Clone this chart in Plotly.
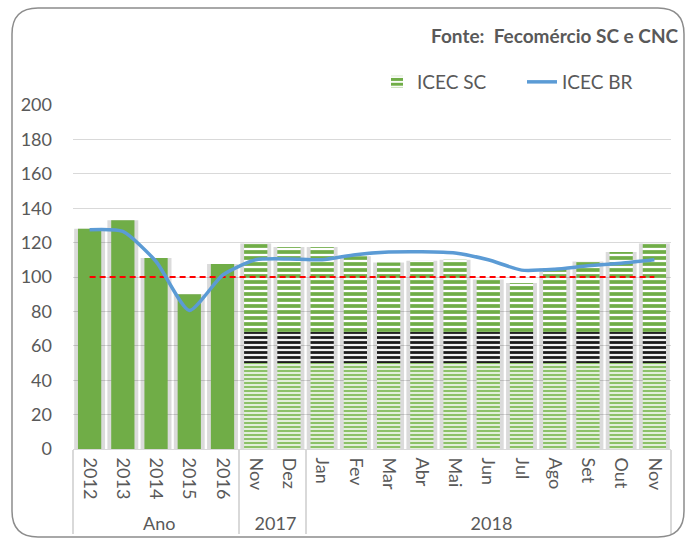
import plotly.graph_objects as go

# ---- data ----
groups = ["Ano"] * 5 + ["2017"] * 2 + ["2018"] * 11
periods = ["2012", "2013", "2014", "2015", "2016", "Nov", "Dez",
           "Jan", "Fev", "Mar", "Abr", "Mai", "Jun", "Jul", "Ago", "Set", "Out", "Nov "]
icec_sc = [128, 133, 111, 90, 107.5, 119.5, 117.5, 117.5, 112, 108.5, 109.5, 110,
           98.5, 96.5, 105, 109, 114.5, 119.5]
icec_br = [127.5, 126.5, 109, 80.5, 101, 110, 110.5, 110, 113, 114.5, 114.7, 114,
           110, 104, 104.5, 106.5, 108, 110]
reference = [100] * len(periods)

N_ANNUAL = 5
BAND_LO, BAND_HI = 50, 68   # pattern band limits (style)

W, H = 688, 540
ML, MR, MT, MB = 73, 17, 105, 91
FONT = "Lato, 'Open Sans', sans-serif"
GREY_TXT = "#595959"
GREEN = "#70AD47"
FS = 18

x_all = [groups, periods]
x_ann = [groups[:N_ANNUAL], periods[:N_ANNUAL]]
x_mon = [groups[N_ANNUAL:], periods[N_ANNUAL:]]
mon_vals = icec_sc[N_ANNUAL:]

fig = go.Figure()

# shadows behind bars
fig.add_trace(go.Bar(x=x_all, y=icec_sc, width=0.93, marker=dict(color="rgba(0,0,0,0.14)", line_width=0),
                     showlegend=False, hoverinfo="skip"))

# annual solid bars
fig.add_trace(go.Bar(x=x_ann, y=icec_sc[:N_ANNUAL], width=0.7, marker=dict(color=GREEN, line_width=0),
                     name="ICEC SC", legendgroup="sc", showlegend=False))

# monthly patterned bars: lower, band, upper segments
fig.add_trace(go.Bar(x=x_mon, y=[min(v, BAND_LO) for v in mon_vals], base=0, width=0.7,
                     marker=dict(color="#E2EFDA", line_width=0,
                                 pattern=dict(shape="-", fgcolor="#8CC168", bgcolor="#E2EFDA",
                                              fgopacity=1, size=4, solidity=0.5)),
                     legendgroup="sc", showlegend=False, hoverinfo="skip"))
fig.add_trace(go.Bar(x=x_mon, y=[BAND_HI - BAND_LO for v in mon_vals], base=BAND_LO, width=0.7,
                     marker=dict(color="#EDEDED", line_width=0,
                                 pattern=dict(shape="-", fgcolor="#1A1A1A", bgcolor="#F2F2F2",
                                              fgopacity=1, size=5, solidity=0.55)),
                     legendgroup="sc", showlegend=False, hoverinfo="skip"))
fig.add_trace(go.Bar(x=x_mon, y=[v - BAND_HI for v in mon_vals], base=BAND_HI, width=0.7,
                     marker=dict(color="white", line_width=0,
                                 pattern=dict(shape="-", fgcolor=GREEN, bgcolor="white",
                                              fgopacity=1, size=6, solidity=0.62)),
                     name="ICEC SC", legendgroup="sc", showlegend=True))

# reference line
fig.add_trace(go.Scatter(x=x_all, y=reference, mode="lines",
                         line=dict(color="#FF0000", width=2, dash="6px,4px"),
                         showlegend=False, hoverinfo="skip"))

# ICEC BR
fig.add_trace(go.Scatter(x=x_all, y=icec_br, mode="lines", name="ICEC BR",
                         line=dict(color="#5B9BD5", width=3.5, shape="spline", smoothing=0.6)))

pw = W - ML - MR
ph = H - MT - MB


def px2paper(px, py):
    return (px - ML) / pw, (H - MB - py) / ph


def P(a, b):
    u, v = px2paper(a, b)
    return f"{u:.5f},{v:.5f}"


# outer rounded border
x0, y0, x1, y1, r = 12, 8, 684, 537, 26
path = (f"M {P(x0 + r, y0)} L {P(x1 - r, y0)} Q {P(x1, y0)} {P(x1, y0 + r)} "
        f"L {P(x1, y1 - r)} Q {P(x1, y1)} {P(x1 - r, y1)} "
        f"L {P(x0 + r, y1)} Q {P(x0, y1)} {P(x0, y1 - r)} "
        f"L {P(x0, y0 + r)} Q {P(x0, y0)} {P(x0 + r, y0)} Z")
fig.add_shape(type="path", path=path, xref="paper", yref="paper",
              line=dict(color="#8C8C8C", width=1.5), layer="above")

tx, ty = px2paper(681, 35)
fig.add_annotation(text="<b>Fonte:  Fecomércio SC e CNC</b>", xref="paper", yref="paper",
                   x=tx, y=ty, xanchor="right", yanchor="middle", showarrow=False,
                   font=dict(family=FONT, size=19, color=GREY_TXT))

lx, ly = px2paper(377, 82)
fig.update_layout(
    width=W, height=H,
    margin=dict(l=ML, r=MR, t=MT, b=MB, autoexpand=False),
    paper_bgcolor="white", plot_bgcolor="white",
    barmode="overlay",
    font=dict(family=FONT, size=FS, color=GREY_TXT),
    legend=dict(orientation="h", x=lx, y=ly, xanchor="left", yanchor="middle",
                entrywidth=100, entrywidthmode="pixels",
                font=dict(size=19, color=GREY_TXT), bgcolor="rgba(0,0,0,0)"),
    showlegend=True,
)
fig.update_yaxes(range=[0, 200], dtick=20, showgrid=True, gridcolor="#D9D9D9", gridwidth=1,
                 zeroline=False, showline=False, ticks="", automargin=False, ticklabelstandoff=20,
                 tickfont=dict(size=FS, color=GREY_TXT))
fig.update_xaxes(type="multicategory", tickangle=90, showline=True, linecolor="#D9D9D9",
                 showdividers=True, dividercolor="#D9D9D9", dividerwidth=1.5, automargin=False,
                 ticks="", ticklabelstandoff=4, tickfont=dict(size=FS, color=GREY_TXT))

fig.write_html("out.html", config={"displayModeBar": False},
               post_script="document.body.style.margin='0';")
